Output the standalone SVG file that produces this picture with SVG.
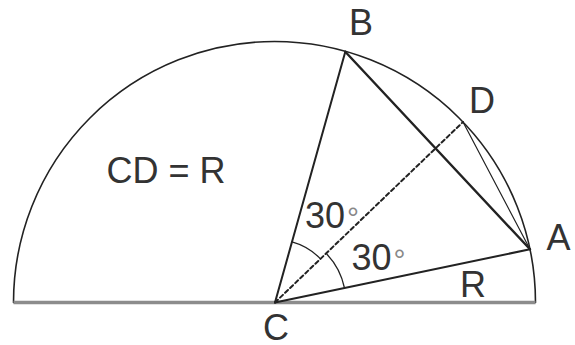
<svg xmlns="http://www.w3.org/2000/svg" width="575" height="345" viewBox="0 0 575 345">
<style>
.ln{stroke:#222;fill:none;stroke-linecap:round}
.t{font-family:"Liberation Sans",Arial,sans-serif;font-size:36px;fill:#333}
.deg{font-size:30px;fill:#888}
</style>
<rect width="575" height="345" fill="#fff"/>
<g id="semicircle">
<path class="ln" d="M13.5 302.5 A261 261 0 0 1 535.5 302.5" stroke-width="1.6"/>
<line x1="13.5" y1="302.5" x2="535.5" y2="302.5" stroke="#8c8c8c" stroke-width="3.5"/>
</g>
<g id="connectors">
<line class="ln" x1="275" y1="302.5" x2="345.3" y2="51.7" stroke-width="2"/>
<line class="ln" x1="275" y1="302.5" x2="530" y2="249.3" stroke-width="2"/>
<line class="ln" x1="345.3" y1="51.7" x2="530" y2="249.3" stroke-width="2.4"/>
<line class="ln" x1="463" y1="122" x2="530" y2="249.3" stroke-width="1.2"/>
<line class="ln" x1="275" y1="302.5" x2="463" y2="122" stroke-width="2" stroke-dasharray="4 3" stroke-linecap="butt"/>
<path class="ln" d="M292 241.9 A63 63 0 0 1 320.5 258.9" stroke-width="1.3"/>
<path class="ln" d="M326.2 253.4 A71 71 0 0 1 344.5 288" stroke-width="1.3"/>
</g>
<g id="node-B"><text class="t" x="349" y="35">B</text></g>
<g id="node-D"><text class="t" x="469" y="113">D</text></g>
<g id="node-A"><text class="t" x="546.5" y="249.5">A</text></g>
<g id="node-C"><text class="t" x="263" y="340">C</text></g>
<g id="label-R"><text class="t" x="460" y="297">R</text></g>
<g id="label-CD"><text class="t" x="106.5" y="183">CD = R</text></g>
<g id="angle-1"><text class="t" x="305" y="228">30<tspan class="deg" dx="2">°</tspan></text></g>
<g id="angle-2"><text class="t" x="351.5" y="270">30<tspan class="deg" dx="2">°</tspan></text></g>
</svg>
